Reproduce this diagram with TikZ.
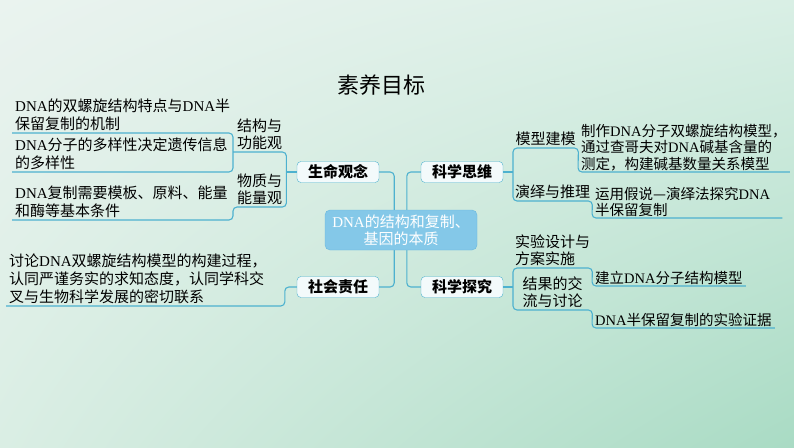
\documentclass[tikz,border=0pt]{standalone}
\usepackage{fontspec}
\setmainfont{Liberation Serif}
\newfontfamily\cjk{Noto Sans CJK SC}
\usetikzlibrary{positioning, shadings}
\definecolor{linecol}{HTML}{4DB1CF}
\definecolor{hubfill}{HTML}{84C8E8}
\definecolor{hubdraw}{HTML}{6AB8DE}
\definecolor{themefill}{HTML}{F3FAFB}
\definecolor{bgA}{HTML}{EAF3EF}
\definecolor{bgB}{HTML}{D9EFE5}
\definecolor{bgC}{HTML}{DAEEE4}
\definecolor{bgD}{HTML}{A9DBC4}
\newcommand\dna{{\rmfamily DNA}}

\begin{document}
\begin{tikzpicture}[x=1pt, y=-1pt,
    hub/.style={draw=hubdraw, fill=hubfill, rounded corners=5pt, align=center, text=white, font=\cjk\fontsize{15}{17}\selectfont, minimum width=152pt, minimum height=40pt, inner sep=2pt},
    theme/.style={draw=linecol, fill=themefill, rounded corners=4pt, font=\cjk\bfseries\fontsize{15}{17}\selectfont, minimum width=82pt, minimum height=21pt, inner sep=1pt},
    note/.style={anchor=south west, align=left, inner xsep=3pt, inner ysep=2pt, font=\cjk\fontsize{15}{18}\selectfont},
    rnote/.style={note, inner ysep=1pt, font=\cjk\fontsize{14.5}{16.5}\selectfont},
    tag/.style={anchor=south west, align=left, inner xsep=2pt, inner ysep=2pt, font=\cjk\fontsize{15}{17}\selectfont},
    branch/.style={draw=linecol, line width=1.1pt, rounded corners=4pt}
]
\shade[upper left=bgA, upper right=bgB, lower left=bgC, lower right=bgD] (0,0) rectangle (794,447);
\useasboundingbox (0,0) rectangle (794,447);

\node[font=\cjk\fontsize{22}{26}\selectfont] (title) at (381,85) {素养目标};

% four themes round the core
\node[theme] (smgn) at (338,172) {生命观念};
\node[theme] (shzr) at (338,287) {社会责任};
\node[theme] (kxsw) at (462,172) {科学思维};
\node[theme] (kxtj) at (462,287) {科学探究};

\draw[branch] (smgn.east) -- ++(15,0) |- (shzr.east);
\draw[branch] (kxsw.west) -- ++(-14,0) |- (kxtj.west);

% 生命观念
\node[note] (jz1) at (12,133) {\dna 的双螺旋结构特点与\dna 半\\保留复制的机制};
\node[note] (jz2) at (12,172) {\dna 分子的多样性决定遗传信息\\的多样性};
\node[note] (jz3) at (12,220) {\dna 复制需要模板、原料、能量\\和酶等基本条件};
\node[tag, minimum width=53pt] (gn) at (233,152) {结构与\\功能观};
\node[tag, minimum width=53pt] (nl) at (233,207) {物质与\\能量观};

\draw[branch] (jz1.south west) -| (gn.south west) |- (jz2.south west);
\draw[branch] (gn.south west) -- (gn.south east) -- (nl.south east) -- (nl.south west) |- (jz3.south west);
\draw[branch] (smgn.west) -- (smgn.west -| gn.south east);

% 社会责任
\node[note] (zr) at (6,306) {讨论\dna 双螺旋结构模型的构建过程，\\认同严谨务实的求知态度，认同学科交\\叉与生物科学发展的密切联系};
\draw[branch] (shzr.west) -- ++(-12,0) |- (zr.south west);

% 科学思维
\node[tag, minimum width=65pt] (jm) at (513,148) {模型建模};
\node[rnote] (mx) at (578,172) {制作\dna 分子双螺旋结构模型，\\通过查哥夫对\dna 碱基含量的\\测定，构建碱基数量关系模型};
\node[tag, minimum width=79pt] (tl) at (513,201) {演绎与推理};
\node[rnote, text width=184pt] (yy) at (592,218) {运用假说—演绎法探究\dna\\半保留复制};

\draw[branch] (mx.south east) -- (mx.south west) -- (jm.south east) -- (jm.south west) -- (tl.south west) -- (tl.south east) -- (yy.south west) -- (yy.south east);
\draw[branch] (kxsw.east) -- (kxsw.east -| jm.south west);

% 科学探究
\node[tag, minimum width=79pt] (sy) at (513,268) {实验设计与\\方案实施};
\node[rnote] (jl) at (592,286) {建立\dna 分子结构模型};
\node[tag, minimum width=79pt] (jg) at (513,310) {结果的交\\流与讨论};
\node[rnote] (zj) at (592,328) {\dna 半保留复制的实验证据};

\draw[branch] (jl.south east) -- (jl.south west) -- (sy.south east) -- (sy.south west) -- (jg.south west) -- (jg.south east) -- (zj.south west) -- (zj.south east);
\draw[branch] (kxtj.east) -- (kxtj.east -| sy.south west);

\node[hub] (core) at (401,230) {\dna 的结构和复制、\\基因的本质};

\end{tikzpicture}
\end{document}
